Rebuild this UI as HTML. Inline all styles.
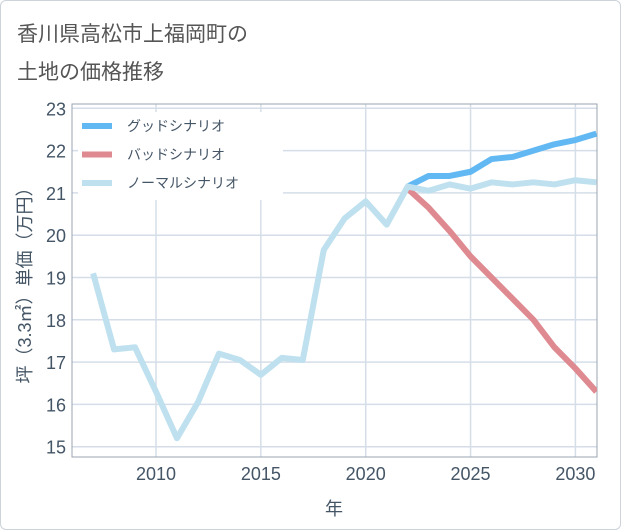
<!DOCTYPE html>
<html><head><meta charset="utf-8"><style>
body{margin:0;background:#fff;}
#card{position:absolute;left:0;top:0;width:619px;height:528px;border:1px solid #ccd3da;border-radius:6px;background:#fff;}
.t{position:absolute;left:17px;font:21px "Liberation Sans","Noto Sans CJK JP",sans-serif;color:#555;}
svg text{font-family:"Liberation Sans","Noto Sans CJK JP",sans-serif;}
</style></head><body>
<div id="card"></div>
<div class="t" style="top:18px">香川県高松市上福岡町の</div>
<div class="t" style="top:56px">土地の価格推移</div>
<svg id="ch" width="621" height="530" style="position:absolute;left:0;top:0"></svg>
<script>
const years=[2007,2008,2009,2010,2011,2012,2013,2014,2015,2016,2017,2018,2019,2020,2021,2022,2023,2024,2025,2026,2027,2028,2029,2030,2031];
const normal=[19.1,17.3,17.35,16.3,15.2,16.05,17.2,17.05,16.7,17.1,17.05,19.65,20.4,20.8,20.25,21.15,21.05,21.2,21.1,21.25,21.2,21.25,21.2,21.3,21.25];
const goodYears=[2022,2023,2024,2025,2026,2027,2028,2029,2030,2031];
const good=[21.15,21.4,21.4,21.5,21.8,21.85,22.0,22.15,22.25,22.4];
const bad=[21.1,20.65,20.1,19.5,19.0,18.5,18.0,17.35,16.85,16.3];
const yTicks=[15,16,17,18,19,20,21,22,23];
const xTicks=[2010,2015,2020,2025,2030];
const NS='http://www.w3.org/2000/svg',svg=document.getElementById('ch');
const L=72,R=597,T=104,B=457;
const X=v=>156+(v-2010)*20.97, Y=v=>446.7-(v-15)*42.3;
function mk(t,a,p){const e=document.createElementNS(NS,t);for(const k in a)e.setAttribute(k,a[k]);(p||svg).appendChild(e);return e;}
yTicks.forEach(v=>{
 const g=mk('line',{x1:L,x2:R,y1:Y(v),y2:Y(v),stroke:'#d5dee8','stroke-width':1.5});
 
 
 const t=mk('text',{x:66,y:Y(v)+7,'text-anchor':'end','font-size':18,fill:'#445566'});t.textContent=v;
 
 
});
xTicks.forEach(v=>{
 const g=mk('line',{x1:X(v),x2:X(v),y1:T,y2:B,stroke:'#d5dee8','stroke-width':1.5});
 
 
 const t=mk('text',{x:X(v),y:480,'text-anchor':'middle','font-size':18,fill:'#445566'});t.textContent=v;
 
 
});
const fr=mk('rect',{x:L,y:T,width:R-L,height:B-T,fill:'none',stroke:'#9aa5b0','stroke-width':1});


const cp=mk('clipPath',{id:'cp'});mk('rect',{x:L,y:T,width:R-L,height:B-T},cp);
function line(xs,ys,c,n){const p=mk('polyline',{points:xs.map((x,i)=>X(x)+','+Y(ys[i])).join(' '),fill:'none',stroke:c,'stroke-width':6,'stroke-linejoin':'round','clip-path':'url(#cp)'});
 
 }
line(goodYears,good,'#62b8f2','good-scenario-line');
line(goodYears,bad,'#de8a90','bad-scenario-line');
line(years,normal,'#bfe0ee','normal-scenario-line');
const leg=[['グッドシナリオ','#62b8f2'],['バッドシナリオ','#de8a90'],['ノーマルシナリオ','#bfe0ee']];
mk('rect',{x:78,y:112,width:205,height:88,fill:'#fff'});
leg.forEach((d,i)=>{const y=126+i*28.5;
 const s=mk('line',{x1:82,x2:112,y1:y,y2:y,stroke:d[1],'stroke-width':6});
 
 
 const t=mk('text',{x:127,y:y+5,'font-size':14,fill:'#445566'});t.textContent=d[0];
 
 
});
const yt=mk('text',{transform:'translate(31,281) rotate(-90)','text-anchor':'middle','font-size':18,fill:'#445566'});yt.textContent='坪（3.3㎡）単価（万円）';


const xt=mk('text',{x:334,y:515,'text-anchor':'middle','font-size':18,fill:'#445566'});xt.textContent='年';


</script>
</body></html>
